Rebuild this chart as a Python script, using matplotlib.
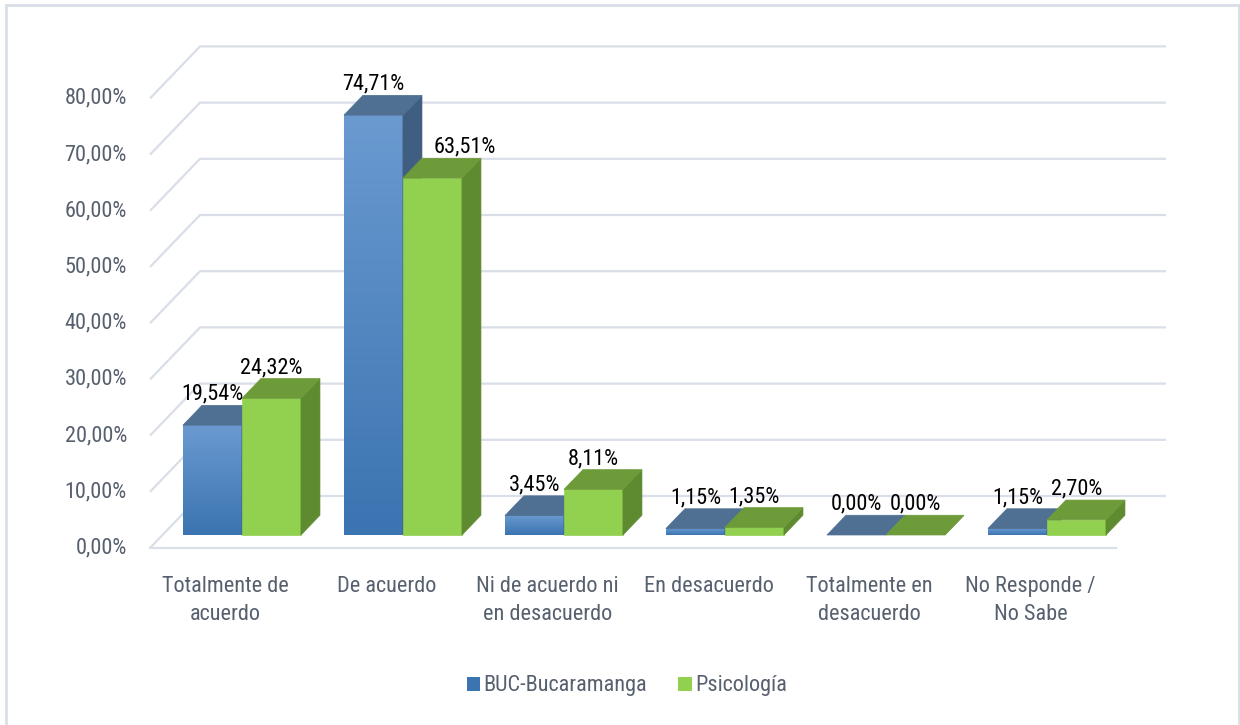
import matplotlib
matplotlib.use("Agg")
import matplotlib.pyplot as plt
import numpy as np
from matplotlib import font_manager
from matplotlib.colors import LinearSegmentedColormap
from matplotlib.patches import Polygon, Patch, Rectangle

# data
categories = [
    "Totalmente de\nacuerdo",
    "De acuerdo",
    "Ni de acuerdo ni\nen desacuerdo",
    "En desacuerdo",
    "Totalmente en\ndesacuerdo",
    "No Responde /\nNo Sabe",
]
series_names = ["BUC-Bucaramanga", "Psicología"]
buc_values = [19.54, 74.71, 3.45, 1.15, 0.00, 1.15]
psi_values = [24.32, 63.51, 8.11, 1.35, 0.00, 2.70]
y_ticks = [0, 10, 20, 30, 40, 50, 60, 70, 80]

# styles
BLUE_TOP_LIGHT = "#6A9AD0"
BLUE_BOTTOM = "#3B74B1"
BLUE_CAP = "#4F6F93"
BLUE_SIDE = "#405E82"
GREEN_FRONT = "#92D050"
GREEN_CAP = "#6E9B3A"
GREEN_SIDE = "#5E8A30"
GRID = "#D9DEE7"
TEXT_GRAY = "#57606E"
# label nudges (category, series) -> x shift, Excel moved this one aside
LABEL_NUDGE = {(1, 1): 0.2}

# narrow fonts first, the reference uses a condensed face
names = {f.name for f in font_manager.fontManager.ttflist}
FONT, FS = "DejaVu Sans", 11
for cand, size in [("Liberation Sans Narrow", 17), ("Roboto Condensed", 16),
                   ("Open Sans Condensed", 16), ("Roboto", 14.2)]:
    if cand in names:
        FONT, FS = cand, size
        break
plt.rcParams["font.family"] = [FONT, "DejaVu Sans"]

# pixel layout of the pseudo-3D frame
W, H = 1240, 725
PX_CAT = 161.0        # pixels per category slot
PX_PCT = 5.62         # pixels per percent
X0_PX, Y0_PX = 150, 548
DX = 50 / PX_CAT      # floor depth, in category units
DY = 52 / PX_PCT      # floor depth, in percent units
Z0, Z1 = 0.25, 0.63   # bar depth range
BAR_OFF = 0.127
BAR_W = 59 / PX_CAT

fig = plt.figure(figsize=(W / 100, H / 100), dpi=100)
ax = fig.add_axes([0, 0, 1, 1])
ax.set_axis_off()


def proj(x, y, z):
    return (x + z * DX, y + z * DY)


n = len(categories)

# side wall + back wall gridlines
for t in y_ticks:
    xs = [0, DX, n + DX]
    ys = [t, t + DY, t + DY]
    ax.plot(xs, ys, color=GRID, lw=1.6, zorder=1, solid_capstyle="butt")
    ax.text(-0.143, t, f"{t:.2f}%".replace(".", ","), ha="right", va="center",
            fontsize=FS, color=TEXT_GRAY)
# floor front edge
ax.plot([0, n], [0, 0], color=GRID, lw=1.6, zorder=1)

blue_cmap = LinearSegmentedColormap.from_list("b", [BLUE_BOTTOM, BLUE_TOP_LIGHT])


def draw_bar(xf, v, front, cap, side, label, blue=False, nudge=0.0):
    x1 = xf + BAR_W
    fl = proj(xf, 0, Z0)
    fr = proj(x1, 0, Z0)
    tl = proj(xf, v, Z0)
    tr = proj(x1, v, Z0)
    br = proj(x1, v, Z1)
    bl = proj(xf, v, Z1)
    brb = proj(x1, 0, Z1)
    if blue and v > 0:
        grad = np.linspace(0, 1, 200).reshape(-1, 1)
        ax.imshow(grad, cmap=blue_cmap, origin="lower", aspect="auto",
                  extent=[fl[0], fr[0], fl[1], tl[1]], zorder=3,
                  interpolation="bilinear")
    elif v > 0:
        ax.add_patch(Polygon([fl, fr, tr, tl], closed=True, facecolor=front,
                             edgecolor=front, lw=0.5, zorder=3))
    ax.add_patch(Polygon([fr, brb, br, tr], closed=True, facecolor=side,
                         edgecolor=side, lw=0.5, zorder=3))
    ax.add_patch(Polygon([tl, tr, br, bl], closed=True, facecolor=cap,
                         edgecolor=cap, lw=0.5, zorder=3))
    cx = (xf + x1) / 2 + Z0 * DX + nudge
    ax.text(cx, v + Z1 * DY + 0.1, label, ha="center", va="bottom",
            fontsize=FS, color="black", zorder=5)


for i in range(n):
    xb = i + BAR_OFF
    draw_bar(xb, buc_values[i], None, BLUE_CAP, BLUE_SIDE,
             f"{buc_values[i]:.2f}%".replace(".", ","), blue=True,
             nudge=LABEL_NUDGE.get((i, 0), 0.0))
    draw_bar(xb + BAR_W, psi_values[i], GREEN_FRONT, GREEN_CAP, GREEN_SIDE,
             f"{psi_values[i]:.2f}%".replace(".", ","),
             nudge=LABEL_NUDGE.get((i, 1), 0.0))
    ax.text(i + 0.47, -4.9, categories[i], ha="center", va="top",
            fontsize=FS, color=TEXT_GRAY, linespacing=1.45)

handles = [Patch(facecolor=BLUE_BOTTOM, edgecolor="none"),
           Patch(facecolor=GREEN_FRONT, edgecolor="none")]
fig.legend(handles, series_names, loc="center", bbox_to_anchor=(627 / W, 1 - 686 / H),
           ncol=2, frameon=False, fontsize=FS, handlelength=0.6, handleheight=0.6,
           handletextpad=0.15, columnspacing=1.4, labelcolor=TEXT_GRAY)

fig.add_artist(Rectangle((6 / W, -0.02), (1239 - 6) / W, 1.02 - 5 / H,
                         transform=fig.transFigure, fill=False, edgecolor=GRID, lw=2))

ax.set_xlim(-X0_PX / PX_CAT, (W - X0_PX) / PX_CAT)
ax.set_ylim((Y0_PX - H) / PX_PCT, Y0_PX / PX_PCT)

fig.savefig("out.png", dpi=100)
